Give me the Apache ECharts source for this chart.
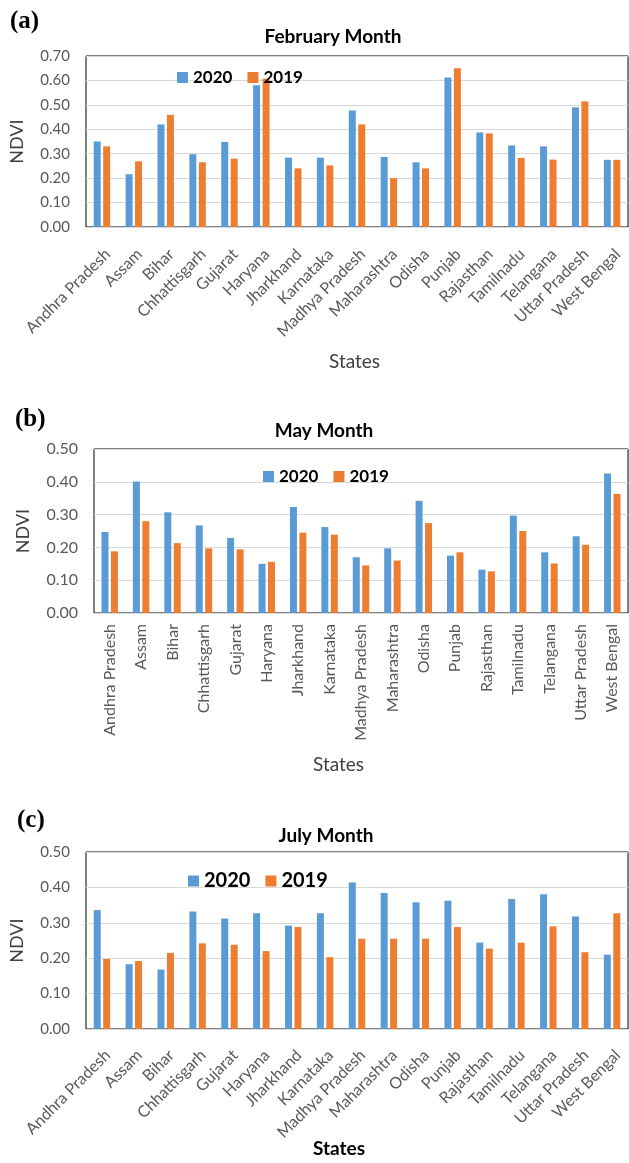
<!DOCTYPE html>
<html>
<head>
<meta charset="utf-8">
<script src="https://cdn.jsdelivr.net/npm/echarts@6/dist/echarts.min.js"></script>
<style>
  html, body { margin: 0; padding: 0; background: #fff; }
  #chart { width: 629px; height: 1163px; }
</style>
</head>
<body>
<div id="chart"></div>
<script>
// states on the x axis (same order in every panel)
const states = ['Andhra Pradesh', 'Assam', 'Bihar', 'Chhattisgarh', 'Gujarat', 'Haryana',
  'Jharkhand', 'Karnataka', 'Madhya Pradesh', 'Maharashtra', 'Odisha', 'Punjab',
  'Rajasthan', 'Tamilnadu', 'Telangana', 'Uttar Pradesh', 'West Bengal'];

// (a) February
const feb2020 = [0.35, 0.216, 0.42, 0.298, 0.348, 0.58, 0.284, 0.284, 0.477, 0.287, 0.265, 0.612, 0.387, 0.334, 0.33, 0.49, 0.275];
const feb2019 = [0.33, 0.269, 0.459, 0.265, 0.28, 0.607, 0.24, 0.252, 0.42, 0.20, 0.24, 0.65, 0.383, 0.283, 0.276, 0.514, 0.275];
// (b) May
const may2020 = [0.247, 0.401, 0.307, 0.267, 0.229, 0.150, 0.323, 0.262, 0.17, 0.197, 0.342, 0.175, 0.132, 0.297, 0.185, 0.234, 0.425];
const may2019 = [0.188, 0.28, 0.213, 0.197, 0.194, 0.156, 0.245, 0.239, 0.145, 0.16, 0.274, 0.185, 0.127, 0.25, 0.151, 0.208, 0.363];
// (c) July
const jul2020 = [0.336, 0.183, 0.168, 0.332, 0.312, 0.327, 0.292, 0.327, 0.414, 0.384, 0.358, 0.362, 0.244, 0.367, 0.381, 0.318, 0.21];
const jul2019 = [0.198, 0.192, 0.215, 0.242, 0.238, 0.22, 0.288, 0.203, 0.255, 0.255, 0.255, 0.288, 0.227, 0.244, 0.29, 0.217, 0.327];

const yMaxes = [0.7, 0.5, 0.5];

const BLUE = '#5B9BD5';
const ORANGE = '#ED7D31';
const FONT = 'Lato';

const chart = echarts.init(document.getElementById('chart'));

const grids = [
  { left: 85, top: 56, right: 1, height: 171 },
  { left: 94, top: 449, right: 1, height: 164 },
  { left: 84, top: 852, right: 1, height: 177 }
];

const xRotate = [45, 90, 45];

const xAxes = grids.map((g, i) => {
  const label = {
    interval: 0,
    rotate: xRotate[i],
    margin: 11,
    fontFamily: FONT,
    fontSize: 16,
    color: '#595959'
  };
  if (xRotate[i] === 45) {
    // Excel hangs the slanted labels from their top corner
    label.verticalAlign = 'top';
    label.margin = i === 0 ? 19 : 18;
  }
  return {
    type: 'category',
    gridIndex: i,
    data: states,
    axisLine: { lineStyle: { color: '#D9D9D9', width: 1 } },
    axisTick: { show: false },
    axisLabel: label
  };
});

const yAxes = grids.map((g, i) => ({
  type: 'value',
  gridIndex: i,
  min: 0,
  max: yMaxes[i],
  interval: 0.1,
  name: 'NDVI',
  nameLocation: 'middle',
  nameGap: i === 1 ? 62 : 60,
  nameTextStyle: { fontFamily: FONT, fontSize: 18, color: '#404040' },
  axisLine: { show: false },
  axisTick: { show: false },
  splitLine: { lineStyle: { color: '#D9D9D9', width: 1 } },
  axisLabel: {
    margin: 16,
    fontFamily: FONT,
    fontSize: i === 1 ? 16 : 15,
    color: '#595959',
    formatter: v => v.toFixed(2)
  }
}));

const panels = [[feb2020, feb2019], [may2020, may2019], [jul2020, jul2019]];
const series = [];
panels.forEach((p, i) => {
  series.push({
    name: '2020', type: 'bar', xAxisIndex: i, yAxisIndex: i,
    data: p[0], barWidth: 7, barGap: '35%',
    itemStyle: { color: BLUE }
  });
  series.push({
    name: '2019', type: 'bar', xAxisIndex: i, yAxisIndex: i,
    data: p[1], barWidth: 7, barGap: '35%',
    itemStyle: { color: ORANGE }
  });
});

const legendPos = [
  { left: 172, top: 64, fontSize: 17 },
  { left: 258, top: 463, fontSize: 17 },
  { left: 183, top: 866, fontSize: 20 }
];

const titleStyle = { fontFamily: FONT, fontSize: 19, fontWeight: 'bold', color: '#000' };

chart.setOption({
  animation: false,
  grid: grids.map(g => Object.assign({ show: true, borderColor: '#000', borderWidth: 1 }, g)),
  title: [
    { text: 'February Month', left: 328, top: 22, textAlign: 'center', textStyle: titleStyle },
    { text: 'May Month', left: 319, top: 416, textAlign: 'center', textStyle: titleStyle },
    { text: 'July Month', left: 321, top: 821, textAlign: 'center', textStyle: titleStyle }
  ],
  legend: legendPos.map(l => ({
    data: ['2020', '2019'],
    left: l.left,
    top: l.top,
    itemWidth: 11,
    itemHeight: 11,
    itemGap: 15,
    icon: 'rect',
    textStyle: { fontFamily: FONT, fontSize: l.fontSize, fontWeight: 'bold', color: '#000' }
  })),
  xAxis: xAxes,
  yAxis: yAxes,
  series: series,
  graphic: [
    { type: 'text', left: 10, top: 9, style: { text: '(a)', font: 'bold 25px "Liberation Serif"', fill: '#000' } },
    { type: 'text', left: 15, top: 407, style: { text: '(b)', font: 'bold 25px "Liberation Serif"', fill: '#000' } },
    { type: 'text', left: 17, top: 808, style: { text: '(c)', font: 'bold 25px "Liberation Serif"', fill: '#000' } },
    { type: 'text', left: 329, top: 352, style: { text: 'States', font: '19px Lato', fill: '#404040' } },
    { type: 'text', left: 313, top: 755, style: { text: 'States', font: '19px Lato', fill: '#404040' } },
    { type: 'text', left: 313, top: 1139, style: { text: 'States', font: 'bold 19px Lato', fill: '#000' } }
  ]
});
</script>
</body>
</html>
